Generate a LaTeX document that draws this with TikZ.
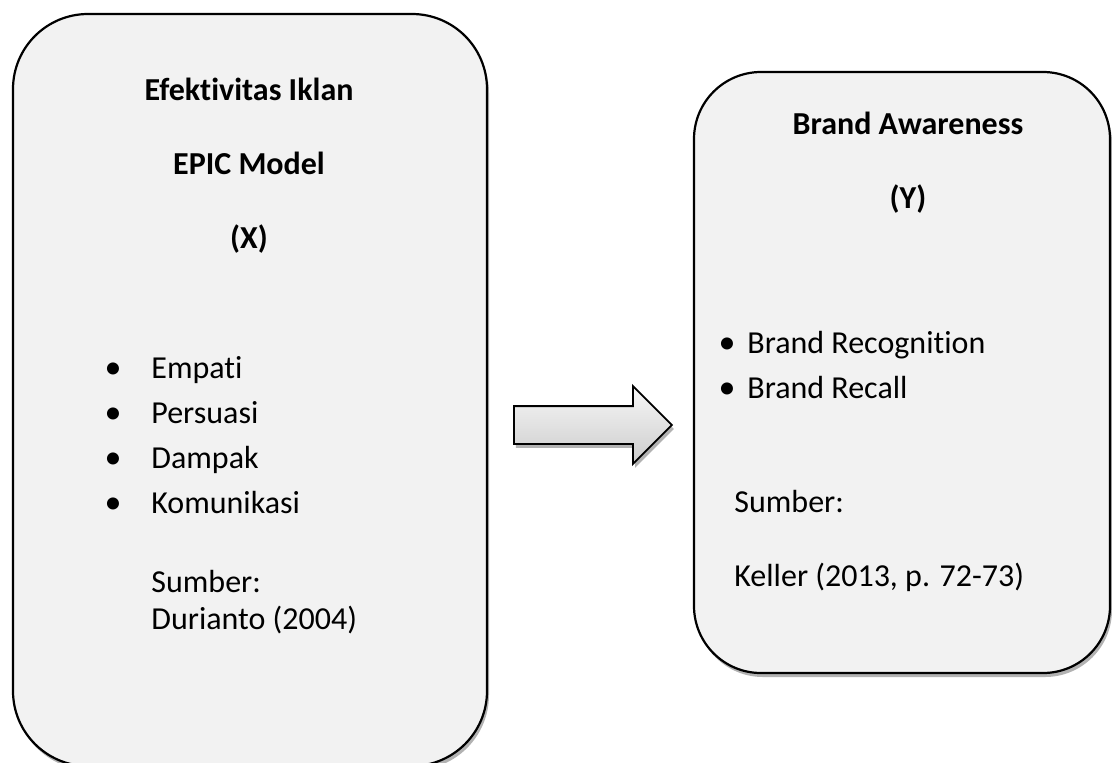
\documentclass[tikz,border=0pt]{standalone}
\usepackage{fontspec}
\setmainfont{Carlito}[Ligatures=NoCommon]
\usetikzlibrary{positioning,shapes.arrows,shadows}
\definecolor{boxgray}{HTML}{F2F2F2}

\begin{document}
\begin{tikzpicture}[x=0.5pt,y=-0.5pt,
    panel/.style={draw=black,line width=1.1pt,fill=boxgray,rounded corners=#1,
      drop shadow={shadow xshift=1pt,shadow yshift=-2pt,opacity=.3,fill=black}},
    head/.style={font=\fontsize{16}{19}\selectfont\bfseries,inner sep=0pt,anchor=base},
    item/.style={font=\fontsize{16}{19}\selectfont,inner sep=0pt,anchor=base west},
    dot/.style={font=\fontsize{17}{19}\selectfont,inner sep=0pt,anchor=base},
    blockarrow/.style={single arrow,draw=black,line width=0.9pt,inner xsep=0pt,inner ysep=9pt,
      minimum height=79pt,single arrow head extend=10pt,top color=gray!6,bottom color=gray!40,
      drop shadow={shadow xshift=1pt,shadow yshift=-2pt,opacity=.3,fill=black}}
  ]
    \useasboundingbox (0,0) rectangle (1112,762);

    % Variable X
    \node[panel=37.5pt,minimum width=237pt,minimum height=376pt] (xbox) at (250,390) {};
    \node[head] (xt1) at (249,100) {Efektivitas Iklan};
    \node[head] (xt2) at (249,174) {EPIC Model};
    \node[head] (xt3) at (249,248) {(X)};
    \node[dot] (xd1) at (113,378) {•};
    \node[dot] (xd2) at (113,423) {•};
    \node[dot] (xd3) at (113,468) {•};
    \node[dot] (xd4) at (113,513) {•};
    \node[item] (xi1) at (151,378) {Empati};
    \node[item] (xi2) at (151,423) {Persuasi};
    \node[item] (xi3) at (151,468) {Dampak};
    \node[item] (xi4) at (151,513) {Komunikasi};
    \node[item] (xs1) at (151,592) {Sumber:};
    \node[item] (xs2) at (151,629) {Durianto (2004)};

    % Variable Y
    \node[panel=33.5pt,minimum width=208pt,minimum height=300.5pt] (ybox) at (902,372.5) {};
    \node[head] (yt1) at (908,134) {Brand Awareness};
    \node[head] (yt2) at (908,208) {(Y)};
    \node[dot] (yd1) at (727,353) {•};
    \node[dot] (yd2) at (727,398) {•};
    \node[item] (yi1) at (747,353) {Brand Recognition};
    \node[item] (yi2) at (747,398) {Brand Recall};
    \node[item] (ys1) at (734,512) {Sumber:};
    \node[item] (ys2) at (734,586) {Keller (2013, p. 72-73)};

    % X -> Y
    \node[blockarrow,anchor=tail] (arr) at (513,425) {};
\end{tikzpicture}
\end{document}
